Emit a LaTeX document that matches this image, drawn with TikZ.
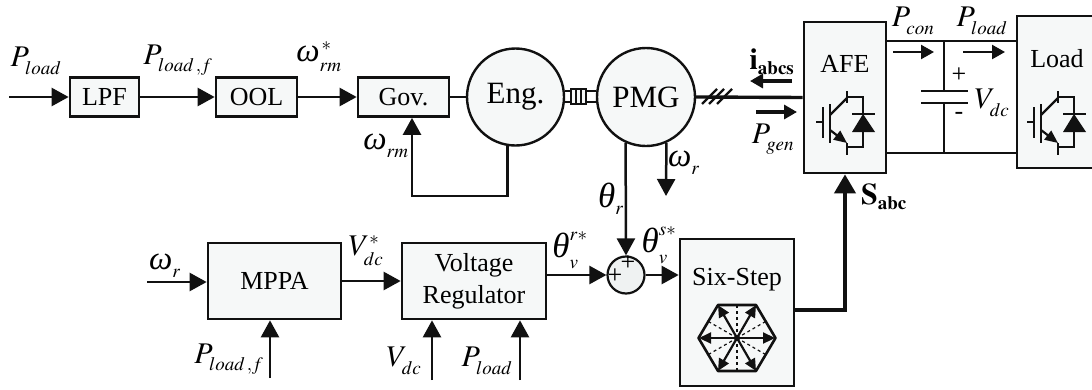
\documentclass[tikz,border=0pt]{standalone}
\usepackage{amsmath, amssymb}
\usepackage{mathptmx}
\usepackage[no-math]{fontspec}
\setmainfont{Liberation Serif}
\usepackage{tikz}
\usetikzlibrary{arrows.meta, positioning, calc}
\DeclareMathSizes{30}{30}{19}{14}
\definecolor{mBox}{HTML}{F6F8F8}
\definecolor{mSum}{HTML}{EFF2F2}
\definecolor{mLine}{HTML}{111111}
\newcommand{\lowsub}[1]{_{\raisebox{-3pt}{$\scriptstyle #1$}}}
\newcommand{\wsym}{\text{\fontsize{33}{36}\selectfont\itshape ω}}
\newcommand{\tsym}{\text{\fontsize{35}{36}\selectfont\itshape θ}}
\tikzset{
  igbtsym/.pic={
    \draw[line width=2.2pt] (-29,0) -- (-22,0);
    \draw[line width=2.6pt] (-22,-15) -- (-22,16);
    \draw[line width=2.6pt] (-15,-18) -- (-15,21);
    \draw[line width=2.2pt] (-15,-7) -- (2,-24);
    \draw[line width=2.6pt] (2,-31) -- (2,-19);
    \draw[line width=2.2pt,-{Triangle[length=13pt,width=11pt]}] (-15,8) -- (2,21);
    \draw[line width=2.6pt] (2,21) -- (2,33);
    \draw[line width=2.2pt] (2,-25) -| (18,-8);
    \draw[line width=2.2pt] (2,25) -| (18,10);
    \draw[line width=2.6pt] (7,-8) -- (30,-8);
    \fill (18,-8) -- (30,10) -- (7,10) -- cycle;
  }
}
\begin{document}
\begin{tikzpicture}[x=1pt, y=-1pt, mLine,
      every node/.style={font=\fontsize{26}{32}\selectfont, text=black},
      blk/.style={draw, fill=mBox, line width=2.7pt, inner sep=0pt},
      rnd/.style={draw, circle, fill=mBox, line width=2.4pt, inner sep=0pt, font=\fontsize{31}{36}\selectfont},
      lbl/.style={font=\fontsize{30}{36}\selectfont, inner sep=0pt},
      wire/.style={line width=2.5pt},
      sig/.style={line width=2.5pt, -{Triangle[length=17pt,width=18pt]}},
      flow/.style={line width=2.4pt, -{Triangle[length=13pt,width=14pt]}}]
    \useasboundingbox (0,0) rectangle (1092,389);
    % top row
    \node[blk, minimum width=69pt, minimum height=39pt] (lpf) at (104.5,97) {LPF};
    \node[blk, minimum width=81pt, minimum height=39pt] (ool) at (256.5,97) {OOL};
    \node[blk, minimum width=91pt, minimum height=39pt] (gov) at (403.5,97) {Gov.};
    \node[rnd, minimum size=97pt] (eng) at (515.5,97) {Eng.};
    \node[rnd, minimum size=98pt] (pmg) at (646,97) {PMG};
    \node[blk, minimum width=82pt, minimum height=151pt] (afe) at (845,97.5) {};
    \node[inner sep=0pt] (afetxt) at (845,64) {AFE};
    \node[blk, minimum width=90pt, minimum height=152pt] (loadbox) at (1062,92) {};
    \node[inner sep=0pt] (loadtxt) at (1057,59) {Load};
    \pic at (845,122) {igbtsym};
    \pic at (1056,122) {igbtsym};
    % bottom row
    \node[blk, minimum width=133pt, minimum height=76pt] (mppa) at (274.5,281) {MPPA};
    \node[blk, minimum width=144pt, minimum height=76pt, align=center] (vreg) at (474,281) {Voltage\\Regulator};
    \node[draw, circle, fill=mSum, line width=2.2pt, minimum size=37pt, inner sep=0pt] (sum) at (626,275) {};
    \node[inner sep=0pt] (plusa) at (628,263) {+};
    \node[inner sep=0pt] (plusb) at (615,276) {+};
    \node[blk, minimum width=114pt, minimum height=147pt] (six) at (737,312.5) {};
    \node[inner sep=0pt] (sixtxt) at (737,280) {Six-Step};
    % free ends
    \coordinate (inload) at (9,97);
    \coordinate (inw) at (147,282);
    \coordinate (inpf) at (270,378);
    \coordinate (invd) at (432,380);
    \coordinate (inpl) at (520,380);
    \coordinate (wend) at (666,196);
    \coordinate (fbk) at (412,196);
    \coordinate (bend) at (845,310);
    \coordinate (hexc) at (737,338);
    \coordinate (rtop) at (944,41);
    \coordinate (rbot) at (944,153);
    \coordinate (capt) at (944,91);
    \coordinate (capb) at (944,103);
    % signals
    \draw[sig] (inload) -- (lpf.west);
    \draw[sig] (lpf.east) -- (ool.west);
    \draw[sig] (ool.east) -- (gov.west);
    \draw[wire] (gov.east) -- (eng.west);
    \draw[sig] (eng.261) |- (fbk) -- (fbk |- gov.south);
    \draw[sig] (pmg.246) -- (sum.north);
    \draw[sig] (pmg.294) -- (wend);
    \draw[sig] (inw) -- (inw -| mppa.west);
    \draw[sig] (inpf) -- (inpf |- mppa.south);
    \draw[sig] (mppa.east) -- (vreg.west);
    \draw[sig] (invd) -- (invd |- vreg.south);
    \draw[sig] (inpl) -- (inpl |- vreg.south);
    \draw[sig] (vreg.east |- sum) -- (sum.west);
    \draw[sig] (sum.east) -- (sum -| six.west);
    % power side
    \draw[line width=3.4pt] (pmg.east) -- (afe.west);
    \foreach \xa in {702,709,717} {
      \draw[line width=2.2pt] (\xa,104) -- ($(\xa,104)+(15,-15)$);
    }
    \draw[line width=4pt, -{Triangle[length=19pt,width=21pt]}] (six.east |- bend) -| (afe.south);
    \draw[wire] (afe.east |- rtop) -- (loadbox.west |- rtop);
    \draw[wire] (afe.east |- rbot) -- (loadbox.west |- rbot);
    \draw[wire] (rtop) -- (capt);
    \draw[wire] (capb) -- (rbot);
    \draw[line width=2.6pt] ($(capt)+(-23,0)$) -- ($(capt)+(24,0)$);
    \draw[line width=2.6pt] ($(capb)+(-23,0)$) -- ($(capb)+(24,0)$);
    % coupling
    \draw[line width=1.8pt] (eng.east |- 0,91) -- (pmg.west |- 0,91);
    \draw[line width=1.8pt] (eng.east |- 0,102) -- (pmg.west |- 0,102);
    \draw[line width=2pt, fill=mBox] (571,89) rectangle (586,104);
    \foreach \xa in {576,581} {
      \draw[line width=1.6pt] (\xa,89) -- (\xa,104);
    }
    % power arrows
    \coordinate (ia) at (792,81);
    \coordinate (ib) at (750,81);
    \coordinate (pa) at (756,112);
    \coordinate (pb) at (797,112);
    \coordinate (ca) at (893,52);
    \coordinate (cb) at (934,52);
    \coordinate (la) at (963,52);
    \coordinate (lb) at (1005,52);
    \draw[flow, line width=3.2pt] (ia) -- (ib);
    \draw[flow, line width=3.2pt] (pa) -- (pb);
    \draw[flow] (ca) -- (cb);
    \draw[flow] (la) -- (lb);
    % hexagon
    \foreach \ang in {30,90,...,330} {
      \draw[line width=1.2pt, dashed] (hexc) -- ++(\ang:34);
    }
    \draw[line width=2.6pt, line join=round] (698.5,338) -- (718,305) -- (756,305) -- (775.5,338) -- (756,371) -- (718,371) -- cycle;
    \foreach \ang in {0,60,...,300} {
      \draw[line width=2.2pt, -{Triangle[length=12pt,width=11pt]}] (hexc) -- ++(\ang:38);
    }
    % labels
    \node[lbl] (lpload) at (36,61) {$P\lowsub{load}$};
    \node[lbl] (lplf) at (178,60) {$P\lowsub{load\,,f}$};
    \node[lbl] (lwrs) at (319,57) {$\wsym^{\,*}\lowsub{rm}$};
    \node[lbl] (lwrm) at (386,146) {$\wsym\lowsub{rm}$};
    \node[lbl] (ltr) at (611,199) {$\tsym\lowsub{r}$};
    \node[lbl] (lwr) at (684,163) {$\wsym\lowsub{r}$};
    \node[lbl] (lwrb) at (165,266) {$\wsym\lowsub{r}$};
    \node[lbl] (lvds) at (366,251) {$V^{*}\lowsub{dc}$};
    \node[lbl] (ltrs) at (570,250) {$\tsym^{r*}\lowsub{v}$};
    \node[lbl] (ltss) at (659,245) {$\tsym^{s*}\lowsub{v}$};
    \node[lbl] (lpfb) at (229,359) {$P\lowsub{load\,,f}$};
    \node[lbl] (lvdb) at (404,361) {$V\lowsub{dc}$};
    \node[lbl] (lplb) at (487,361) {$P\lowsub{load}$};
    \node[lbl] (lpgen) at (773,139) {$P\lowsub{gen}$};
    \node[lbl] (lpcon) at (913,21) {$P\lowsub{con}$};
    \node[lbl] (lplt) at (982,21) {$P\lowsub{load}$};
    \node[lbl] (lvdc) at (992,103) {$V\lowsub{dc}$};
    \node[lbl] (liabc) at (772,62) {$\mathbf{i}_{\mathbf{abcs}}$};
    \node[lbl] (lsabc) at (884,197) {$\mathbf{S}_{\mathbf{abc}}$};
    \node[inner sep=0pt] (lplus) at (959,75) {+};
    \node[inner sep=0pt] (lminus) at (959,116) {-};
  \end{tikzpicture}
\end{document}
